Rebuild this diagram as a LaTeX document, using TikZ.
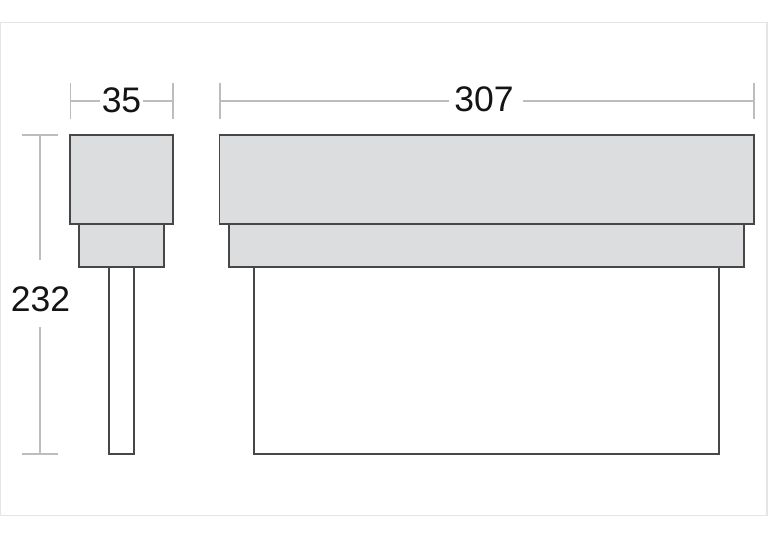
\documentclass[tikz,border=0pt]{standalone}
\usepackage{fontspec}
\setmainfont{Liberation Sans}
\tikzset{
  part/.style={draw=black!72,line width=1.7pt,fill=#1,line join=miter},
  part/.default=white,
  dimline/.style={draw=black!26,line width=1.5pt},
  dimtext/.style={font=\fontsize{35.5}{36}\selectfont,text=black!92,inner sep=0pt,anchor=center}
}
\definecolor{partgrey}{HTML}{DCDDDF}
\begin{document}
\begin{tikzpicture}[x=1pt,y=-1pt]
\useasboundingbox (0,0) rectangle (768,538);
\fill[white] (0,0) rectangle (768,538);
\draw[draw=black!10,line width=1.2pt] (0.8,22.5) rectangle (767,515.5);
% side view
\draw[part] (109,267) rectangle (134,454);
\draw[part=partgrey] (79,224) rectangle (164,267);
\draw[part=partgrey] (70,135) rectangle (173,224);
% front view
\draw[part] (254,267) rectangle (719,454);
\draw[part=partgrey] (229,224) rectangle (744,267);
\draw[part=partgrey] (219.5,135) rectangle (754,224);
% dimension labels
\node[dimtext] (w1) at (121.5,100) {35};
\node[dimtext] (w2) at (484,99.5) {307};
\node[dimtext] (h) at (40.5,299) {232};
% dimension ends
\coordinate (w1a) at (70.5,101); \coordinate (w1b) at (173,101);
\coordinate (w2a) at (220,101); \coordinate (w2b) at (754,101);
\coordinate (ha) at (40,135); \coordinate (hb) at (40,454);
% ticks
\draw[dimline] ([yshift=-18pt]w1a) -- ([yshift=18pt]w1a);
\draw[dimline] ([yshift=-18pt]w1b) -- ([yshift=18pt]w1b);
\draw[dimline] ([yshift=-18pt]w2a) -- ([yshift=18pt]w2a);
\draw[dimline] ([yshift=-18pt]w2b) -- ([yshift=18pt]w2b);
\draw[dimline] ([xshift=-18pt]ha) -- ([xshift=18pt]ha);
\draw[dimline] ([xshift=-18pt]hb) -- ([xshift=18pt]hb);
% dimension lines, from the end to the label
\draw[dimline,shorten >=2pt] (w1a) -- (w1a -| w1.west);
\draw[dimline,shorten >=2pt] (w1b) -- (w1b -| w1.east);
\draw[dimline,shorten >=5pt] (w2a) -- (w2a -| w2.west);
\draw[dimline,shorten >=9pt] (w2b) -- (w2b -| w2.east);
\draw[dimline,shorten >=26pt] (ha) -- (ha |- h.north);
\draw[dimline,shorten >=15pt] (hb) -- (hb |- h.south);
\end{tikzpicture}
\end{document}
